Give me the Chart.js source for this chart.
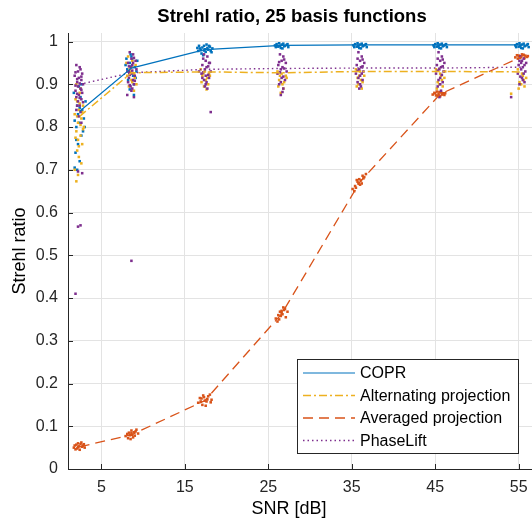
<!DOCTYPE html>
<html>
<head>
<meta charset="utf-8">
<script src="https://cdn.jsdelivr.net/npm/chart.js@4/dist/chart.umd.min.js"></script>
<style>
	html, body { margin: 0; padding: 0; background: #fff; }
	canvas { display: block; }
</style>
</head>
<body>
<canvas id="chart" width="532" height="525"></canvas>
<script>
// mean curves, one value per SNR
const snrDb = [2.4, 8.6, 17.4, 26.6, 36.0, 45.6, 55.4];
const coprMean = [0.837, 0.938, 0.981, 0.991, 0.992, 0.992, 0.992];
const altProjMean = [0.825, 0.927, 0.929, 0.927, 0.930, 0.930, 0.929];
const avgProjMean = [0.052, 0.080, 0.160, 0.363, 0.672, 0.877, 0.965];
const phaseLiftMean = [0.900, 0.927, 0.935, 0.937, 0.938, 0.938, 0.940];

// individual trials [snr, strehl]
const coprTrials = [
	[1.7,0.88],[2.1,0.85],[2.9,0.82],[2.0,0.80],[2.6,0.78],[3.1,0.86],[2.2,0.76],[1.9,0.74],[2.4,0.72],[1.8,0.705],[2.7,0.84],[2.3,0.895],[3.0,0.80],[2.2,0.83],[2.5,0.87],[1.8,0.815],[2.8,0.79],[2.4,0.845],[2.0,0.77],[2.6,0.90],[2.3,0.81],[2.1,0.70],
	[8.0,0.96],[8.4,0.95],[9.0,0.94],[8.3,0.93],[8.8,0.92],[9.3,0.955],[8.2,0.91],[8.9,0.90],[8.6,0.965],[9.2,0.93],[7.9,0.945],[8.9,0.875],[8.5,0.97],[8.7,0.958],[8.1,0.935],[9.1,0.915],[8.4,0.888],[8.6,0.942],
	[16.5,0.985],[16.9,0.98],[17.3,0.99],[17.7,0.985],[18.1,0.978],[18.3,0.984],[17.0,0.972],[17.5,0.976],[17.9,0.99],[16.7,0.99],[17.4,0.982],[18.0,0.988],[17.2,0.968],[16.6,0.978],[17.6,0.993],[17.1,0.986],[17.8,0.981],[18.2,0.975],[17.3,0.979],[16.8,0.984],
	[25.8,0.991],[26.2,0.988],[26.6,0.993],[27.0,0.99],[27.4,0.987],[26.8,0.995],[26.0,0.994],[26.5,0.985],[27.2,0.992],[26.4,0.99],[26.9,0.989],[26.3,0.996],[25.9,0.987],[27.3,0.994],[26.7,0.984],
	[35.2,0.991],[35.6,0.988],[36.0,0.993],[36.4,0.99],[36.8,0.987],[36.2,0.995],[35.4,0.994],[35.9,0.985],[36.6,0.992],[35.8,0.99],[36.3,0.989],[35.7,0.996],[35.3,0.987],[36.7,0.994],[36.1,0.984],
	[44.8,0.991],[45.2,0.988],[45.6,0.993],[46.0,0.99],[46.4,0.987],[45.8,0.995],[45.0,0.994],[45.5,0.985],[46.2,0.992],[45.4,0.99],[45.9,0.989],[45.3,0.996],[44.9,0.987],[46.3,0.994],[45.7,0.984],
	[54.6,0.991],[55.0,0.988],[55.4,0.993],[55.8,0.99],[56.2,0.987],[55.6,0.995],[54.8,0.994],[55.3,0.985],[56.0,0.992],[55.2,0.99],[55.7,0.989],[55.1,0.996],[54.7,0.987],[56.1,0.994],[55.5,0.984]
];
const altProjTrials = [
	[2.0,0.90],[2.4,0.88],[2.1,0.86],[2.8,0.85],[2.3,0.84],[1.8,0.83],[2.6,0.82],[2.2,0.81],[2.9,0.80],[2.0,0.79],[2.5,0.78],[2.2,0.77],[2.7,0.76],[2.1,0.745],[2.3,0.73],[2.6,0.715],[1.8,0.70],[2.2,0.688],[2.0,0.673],[2.4,0.855],[1.9,0.865],[2.7,0.835],[2.5,0.805],[1.9,0.775],[2.8,0.795],[2.3,0.755],[2.1,0.825],[2.5,0.89],
	[8.2,0.965],[8.7,0.955],[9.1,0.945],[8.4,0.935],[8.9,0.925],[8.1,0.92],[8.6,0.91],[9.2,0.90],[8.3,0.895],[8.9,0.885],[8.6,0.94],[8.0,0.95],[8.5,0.928],[9.0,0.915],[8.7,0.905],
	[16.9,0.935],[17.4,0.93],[17.9,0.925],[17.1,0.92],[17.7,0.915],[17.0,0.905],[17.5,0.91],[18.0,0.92],[17.3,0.895],[17.8,0.90],[17.2,0.925],[17.6,0.888],
	[26.1,0.93],[26.6,0.925],[27.1,0.92],[26.3,0.91],[26.9,0.905],[26.2,0.895],[26.8,0.89],[26.5,0.88],[27.2,0.915],[26.4,0.92],[26.7,0.9],
	[35.5,0.935],[36.0,0.93],[36.5,0.92],[35.7,0.915],[36.3,0.905],[35.6,0.895],[36.2,0.89],[35.9,0.92],[36.1,0.91],[35.8,0.9],
	[45.1,0.935],[45.6,0.925],[46.1,0.915],[45.3,0.905],[45.9,0.895],[45.2,0.89],[45.8,0.91],[46.2,0.93],[45.5,0.9],[45.7,0.92],
	[54.9,0.935],[55.4,0.925],[55.9,0.915],[55.1,0.905],[55.7,0.895],[55.0,0.89],[55.6,0.91],[54.1,0.878],[55.3,0.9],[55.5,0.92]
];
const avgProjTrials = [
	[1.8,0.055],[2.2,0.060],[2.7,0.052],[2.1,0.048],[2.5,0.058],[3.0,0.050],[1.7,0.050],[2.4,0.045],[2.0,0.057],[2.8,0.055],[2.3,0.053],[2.6,0.062],[1.9,0.046],[2.9,0.058],[2.2,0.051],
	[7.9,0.077],[8.3,0.085],[8.7,0.080],[9.1,0.088],[8.2,0.072],[8.6,0.090],[9.0,0.078],[9.4,0.083],[8.5,0.070],[8.9,0.086],[8.4,0.079],[8.8,0.074],[9.2,0.092],[8.1,0.082],[8.6,0.084],
	[16.6,0.155],[17.0,0.165],[17.4,0.160],[17.8,0.170],[18.2,0.162],[17.1,0.150],[17.6,0.158],[18.0,0.174],[17.3,0.168],[17.5,0.148],[16.9,0.158],[17.7,0.163],[17.2,0.172],[18.1,0.156],[16.8,0.166],
	[25.9,0.352],[26.2,0.360],[26.6,0.365],[26.9,0.372],[27.3,0.368],[26.3,0.350],[26.8,0.378],[26.5,0.358],[26.7,0.362],[27.1,0.355],[26.4,0.368],[27.0,0.375],[26.1,0.345],[26.6,0.37],
	[35.1,0.655],[35.4,0.662],[35.8,0.668],[36.1,0.675],[36.4,0.680],[35.7,0.672],[36.0,0.665],[36.3,0.686],[35.9,0.678],[36.7,0.690],[35.5,0.658],[36.2,0.668],[35.6,0.676],[36.5,0.683],[35.3,0.65],
	[44.7,0.876],[45.0,0.879],[45.4,0.877],[45.7,0.881],[46.1,0.875],[45.3,0.873],[45.9,0.879],[45.5,0.882],[45.1,0.874],[45.8,0.876],[44.9,0.88],[45.6,0.872],[46.2,0.879],[45.2,0.883],
	[54.6,0.963],[55.0,0.967],[55.3,0.965],[55.6,0.969],[56.0,0.964],[55.2,0.962],[55.8,0.967],[55.5,0.968],[55.1,0.966],[55.7,0.961],[54.8,0.968],[55.4,0.97],[56.1,0.966],[54.9,0.96]
];
const phaseLiftTrials = [
	[2.0,0.945],[2.4,0.94],[2.2,0.93],[2.7,0.925],[1.8,0.92],[2.3,0.915],[2.6,0.91],[2.1,0.905],[2.8,0.90],[2.2,0.895],[2.5,0.89],[1.9,0.885],[2.7,0.88],[2.3,0.875],[2.0,0.87],[2.6,0.865],[2.2,0.86],[2.4,0.85],[2.0,0.84],[2.3,0.825],[2.6,0.81],[2.2,0.696],[2.7,0.692],[2.2,0.567],[2.5,0.57],[1.9,0.41],
	[2.5,0.935],[1.9,0.928],[2.6,0.918],[2.1,0.912],[2.4,0.902],[1.9,0.897],[2.6,0.887],[2.1,0.878],[2.4,0.868],[2.8,0.858],[2.1,0.85],[2.5,0.835],
	[8.4,0.975],[8.8,0.97],[8.6,0.96],[9.1,0.955],[8.2,0.95],[8.7,0.945],[8.5,0.94],[9.2,0.935],[8.1,0.93],[8.6,0.925],[9.0,0.92],[8.3,0.915],[8.8,0.91],[8.2,0.905],[8.9,0.90],[8.5,0.895],[8.6,0.885],[8.1,0.875],[8.9,0.87],[8.6,0.487],
	[8.9,0.962],[8.3,0.942],[8.7,0.932],[8.4,0.922],[9.0,0.908],[8.4,0.898],[8.7,0.89],[8.3,0.93],[8.8,0.95],
	[17.3,0.97],[17.7,0.965],[17.5,0.955],[18.0,0.95],[17.1,0.945],[17.6,0.94],[17.4,0.935],[18.1,0.93],[17.0,0.925],[17.5,0.92],[17.9,0.915],[17.3,0.91],[17.6,0.905],[17.4,0.895],[17.7,0.89],[16.7,0.93],[18.1,0.835],
	[17.2,0.96],[17.8,0.942],[17.2,0.928],[17.8,0.922],[17.5,0.9],[17.1,0.915],[17.9,0.95],
	[26.4,0.97],[26.8,0.965],[26.6,0.955],[27.1,0.95],[26.2,0.945],[26.7,0.94],[26.5,0.935],[27.2,0.93],[26.1,0.925],[26.6,0.915],[27.0,0.91],[26.3,0.90],[26.8,0.89],[26.5,0.875],
	[26.9,0.958],[26.3,0.952],[26.9,0.937],[26.4,0.928],[26.8,0.918],[26.5,0.905],[26.7,0.882],
	[35.8,0.975],[36.2,0.965],[36.0,0.955],[36.5,0.95],[35.6,0.945],[36.1,0.94],[35.9,0.935],[36.4,0.93],[35.5,0.925],[36.0,0.92],[36.3,0.91],[35.7,0.905],[36.1,0.895],[35.9,0.89],
	[36.3,0.958],[35.7,0.96],[36.3,0.942],[35.7,0.932],[36.2,0.925],[35.8,0.915],[36.0,0.9],
	[45.4,0.975],[45.8,0.965],[45.6,0.955],[46.1,0.95],[45.2,0.945],[45.7,0.94],[45.5,0.935],[46.0,0.93],[45.1,0.925],[45.6,0.915],[45.9,0.905],[45.3,0.895],[45.7,0.885],[45.5,0.87],
	[45.9,0.958],[45.3,0.96],[45.9,0.942],[45.3,0.932],[45.8,0.922],[45.4,0.91],[45.6,0.9],
	[55.2,0.965],[55.6,0.96],[55.4,0.955],[55.9,0.95],[55.0,0.945],[55.5,0.94],[55.3,0.935],[55.8,0.93],[54.9,0.925],[55.4,0.915],[55.7,0.905],[55.1,0.90],[54.1,0.87],
	[55.7,0.945],[55.1,0.955],[55.6,0.925],[55.2,0.918],[55.5,0.91],[55.3,0.95]
];

const xTicks = [5, 15, 25, 35, 45, 55];
const yTicks = [0, 0.1, 0.2, 0.3, 0.4, 0.5, 0.6, 0.7, 0.8, 0.9, 1];

const titleText = 'Strehl ratio, 25 basis functions';
const xLabel = 'SNR [dB]';
const yLabel = 'Strehl ratio';

const BLUE = '#0072BD', ORANGE = '#D95319', YELLOW = '#EDB120', PURPLE = '#7E2F8E';
const AXIS = '#262626';
const FONT = 'Arial, "Liberation Sans", Helvetica, sans-serif';

const series = [
	{ label: 'COPR', color: BLUE, dash: [], width: 1.2, mean: coprMean, trials: coprTrials },
	{ label: 'Alternating projection', color: YELLOW, dash: [8, 3, 2, 3], width: 1.5, mean: altProjMean, trials: altProjTrials },
	{ label: 'Averaged projection', color: ORANGE, dash: [10, 6], width: 1.3, mean: avgProjMean, trials: avgProjTrials },
	{ label: 'PhaseLift', color: PURPLE, dash: [1.5, 3], width: 1.4, mean: phaseLiftMean, trials: phaseLiftTrials }
];

function pts(arr) { return arr.map(p=>({ x: p[0], y: p[1] })); }

const datasets = [];
// mean lines on top
series.forEach((s, i)=>{
	datasets.push({
		type: 'line',
		label: s.label,
		data: snrDb.map((x, j)=>({ x: x, y: s.mean[j] })),
		borderColor: s.color,
		borderWidth: s.width,
		borderDash: s.dash,
		pointRadius: 0,
		fill: false,
		tension: 0,
		order: i
	});
});
// scatter clouds below, purple on top
const scatterOrder = { COPR: 13, 'Alternating projection': 12, 'Averaged projection': 11, PhaseLift: 10 };
series.forEach(s=>{
	datasets.push({
		type: 'scatter',
		label: s.label + ' trials',
		data: pts(s.trials),
		backgroundColor: s.color,
		borderWidth: 0,
		pointRadius: 1.8,
		pointStyle: 'rect',
		order: scatterOrder[s.label]
	});
});

const decorations = {
	id: 'decorations',
	afterDatasetsDraw(chart) {
		const ctx = chart.ctx;
		const area = chart.chartArea;
		const xs = chart.scales.x, ys = chart.scales.y;
		ctx.save();
		// inward tick marks
		ctx.strokeStyle = AXIS;
		ctx.lineWidth = 1;
		ctx.setLineDash([]);
		yTicks.forEach(v=>{
			const y = Math.round(ys.getPixelForValue(v)) + 0.5;
			ctx.beginPath(); ctx.moveTo(area.left, y); ctx.lineTo(area.left + 5, y); ctx.stroke();
		});
		xTicks.forEach(v=>{
			const x = Math.round(xs.getPixelForValue(v)) + 0.5;
			ctx.beginPath(); ctx.moveTo(x, area.bottom); ctx.lineTo(x, area.bottom - 5); ctx.stroke();
		});

		// legend box, lower right inside the axes
		const lx = 297, ly = area.bottom - 110, lw = 221, lh = 94;
		ctx.fillStyle = '#fff';
		ctx.fillRect(lx, ly, lw, lh);
		ctx.strokeStyle = AXIS;
		ctx.lineWidth = 1;
		ctx.strokeRect(lx + 0.5, ly + 0.5, lw, lh);
		ctx.font = '16px ' + FONT;
		ctx.textBaseline = 'middle';
		ctx.textAlign = 'left';
		series.forEach((s, i)=>{
			const y = ly + 14 + i * 22.5;
			ctx.strokeStyle = s.color;
			ctx.lineWidth = s.width;
			ctx.setLineDash(s.dash);
			ctx.beginPath(); ctx.moveTo(lx + 6, y); ctx.lineTo(lx + 58, y); ctx.stroke();
			ctx.setLineDash([]);
			ctx.fillStyle = '#000';
			ctx.fillText(s.label, lx + 63, y + 1);
		});
		ctx.restore();
	},
	afterDraw(chart) {
		const ctx = chart.ctx;
		const area = chart.chartArea;
		ctx.save();
		ctx.fillStyle = '#000';
		ctx.textAlign = 'center';
		ctx.textBaseline = 'middle';
		ctx.font = 'bold 18.5px ' + FONT;
		ctx.fillText(titleText, 292, 17);
		ctx.font = '18px ' + FONT;
		ctx.fillText(xLabel, 289, 509);
		ctx.translate(20, (area.top + area.bottom) / 2);
		ctx.rotate(-Math.PI / 2);
		ctx.fillText(yLabel, 0, 0);
		ctx.restore();
	}
};

new Chart(document.getElementById('chart'), {
	type: 'scatter',
	data: { datasets: datasets },
	plugins: [decorations],
	options: {
		responsive: false,
		animation: false,
		devicePixelRatio: 1,
		layout: { autoPadding: false, padding: { top: 33, right: 0, left: 0, bottom: 0 } },
		plugins: {
			legend: { display: false },
			title: { display: false },
			tooltip: { enabled: false }
		},
		scales: {
			x: {
				type: 'linear',
				min: 1,
				max: 56.6,
				afterBuildTicks: s=>{ s.ticks = xTicks.map(v=>({ value: v })); },
				afterFit: s=>{ s.height = 56; s.paddingLeft = 0; s.paddingRight = 0; },
				grid: { color: '#e3e3e3', lineWidth: 1, drawTicks: false },
				border: { color: AXIS, width: 1 },
				ticks: { color: AXIS, padding: 9, font: { family: FONT, size: 16 }, maxRotation: 0 }
			},
			y: {
				type: 'linear',
				min: 0,
				max: 1.02,
				afterBuildTicks: s=>{ s.ticks = yTicks.map(v=>({ value: v })); },
				afterFit: s=>{ s.width = 68; s.paddingTop = 0; s.paddingBottom = 0; },
				grid: { color: '#e3e3e3', lineWidth: 1, drawTicks: false },
				border: { color: AXIS, width: 1 },
				ticks: { color: AXIS, padding: 10, font: { family: FONT, size: 16 }, callback: v=>String(v) }
			}
		}
	}
});
</script>
</body>
</html>
